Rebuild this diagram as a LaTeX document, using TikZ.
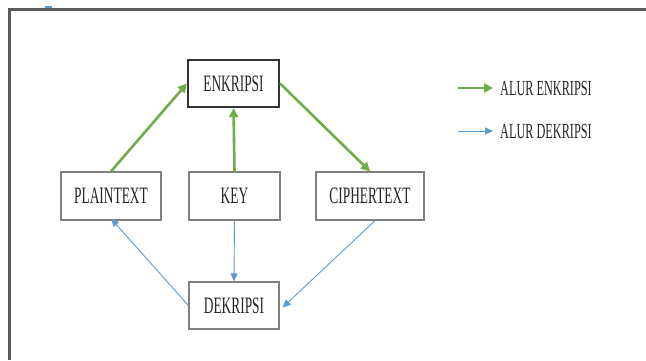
\documentclass[tikz,border=0pt]{standalone}
\usepackage{fontspec}
\setmainfont{Liberation Serif}
\newfontfamily\boxfont[FakeStretch=0.57]{Liberation Serif}
\usetikzlibrary{arrows.meta}
\definecolor{encgreen}{HTML}{70AD47}
\definecolor{decblue}{HTML}{5B9BD5}
\definecolor{boxline}{HTML}{808080}
\definecolor{framegray}{HTML}{5A5A5A}
\begin{document}
\begin{tikzpicture}[x=1pt,y=-1pt,
  stepbox/.style={draw=boxline,line width=1.2pt,fill=white,inner sep=0pt,
    font=\boxfont\fontsize{23.5}{23.5}\selectfont,text=black!85},
  mainbox/.style={stepbox,draw=black!80,line width=2.2pt},
  encflow/.style={draw=encgreen,line width=2.6pt,-{Triangle[length=9pt,width=9pt]}},
  decflow/.style={draw=decblue,line width=0.9pt,-{Triangle[length=8pt,width=7pt]}},
  legendtext/.style={anchor=west,inner sep=0pt,font=\boxfont\fontsize{21.5}{21.5}\selectfont,text=black!85}]
  \useasboundingbox (0,0) rectangle (646,360);
  \fill[white] (0,0) rectangle (646,360);
  % outer frame
  \draw[framegray,line width=3pt] (9,360) -- (9,9) -- (646,9);
  \fill[decblue] (45,6) rectangle (52,8);

  % boxes
  \node[mainbox,minimum width=91pt,minimum height=47pt] (enk) at (233.5,83.5) {ENKRIPSI};
  \node[stepbox,minimum width=100pt,minimum height=48pt] (plain) at (111,196) {PLAINTEXT};
  \node[stepbox,minimum width=91pt,minimum height=48pt] (key) at (234.5,196) {KEY};
  \node[stepbox,minimum width=108pt,minimum height=48pt] (ciph) at (370,196) {CIPHERTEXT};
  \node[stepbox,minimum width=90pt,minimum height=47pt] (dek) at (234,305.5) {DEKRIPSI};

  % encryption flow
  \draw[encflow] (plain.north) -- (enk.west);
  \draw[encflow] (key.north) -- (enk.south);
  \draw[encflow] (enk.east) -- (ciph.north);

  % decryption flow
  \draw[decflow] (key.south) -- (dek.north);
  \draw[decflow] ([xshift=5pt]ciph.south) -- ([xshift=3pt,yshift=-2pt]dek.east);
  \draw[decflow] (dek.west) -- ([yshift=2pt]plain.south);

  % legend
  \coordinate (ga) at (458,88);
  \coordinate (gb) at (493,88);
  \coordinate (ba) at (458,131);
  \coordinate (bb) at (493,131);
  \draw[encflow] (ga) -- (gb);
  \draw[decflow] (ba) -- (bb);
  \node[legendtext] (lenc) at (500,88) {ALUR ENKRIPSI};
  \node[legendtext] (ldec) at (500,131) {ALUR DEKRIPSI};
\end{tikzpicture}
\end{document}
